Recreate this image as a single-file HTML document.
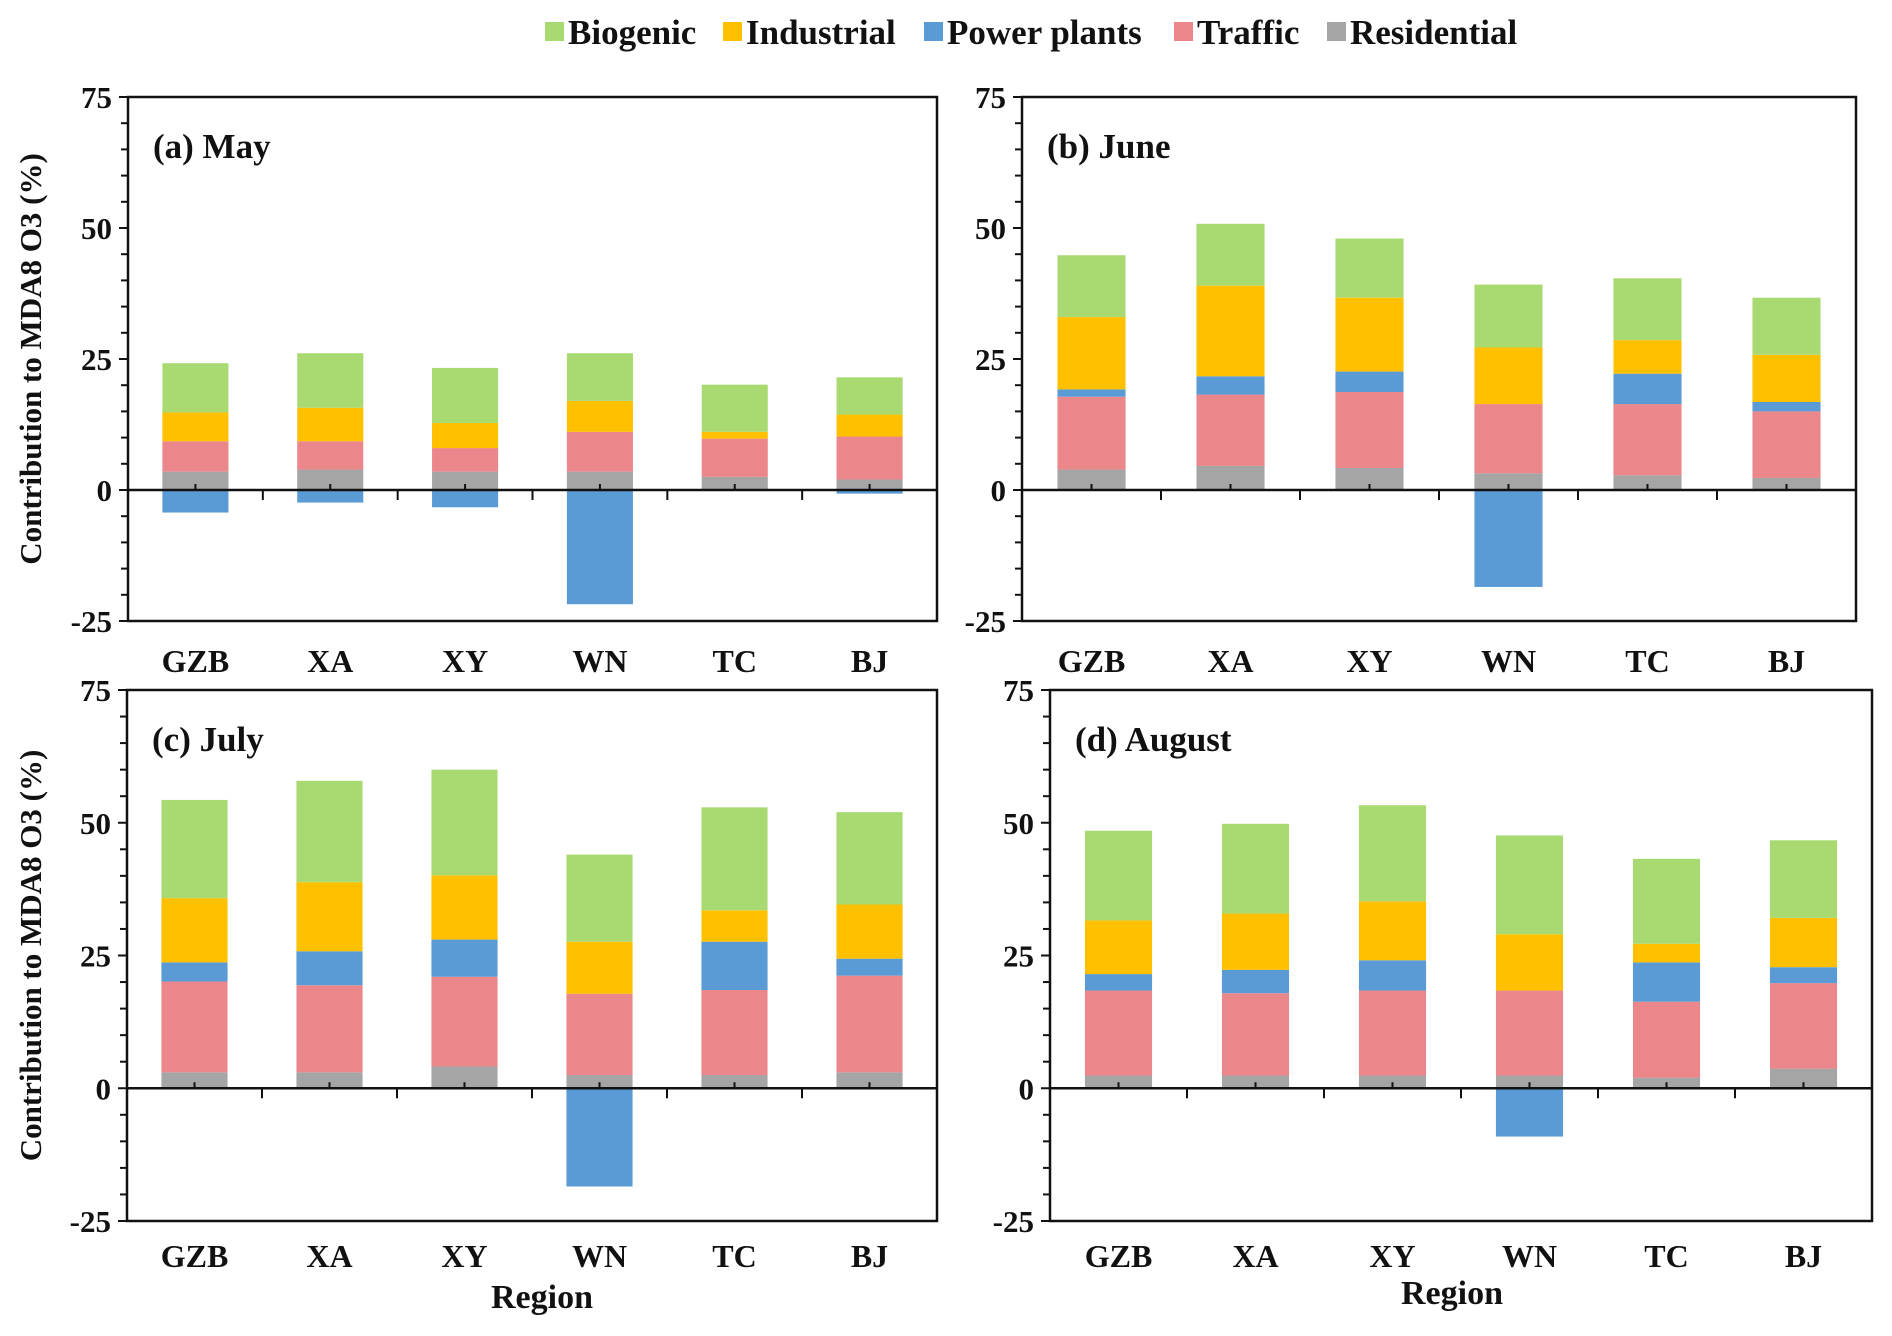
<!DOCTYPE html>
<html><head><meta charset="utf-8"><style>
html,body{margin:0;padding:0;background:#fff}
svg{display:block}
text{font-family:"Liberation Serif",serif;font-weight:bold;fill:#111}
</style></head><body>
<svg id="chart" width="1892" height="1336" viewBox="0 0 1892 1336" xmlns="http://www.w3.org/2000/svg">
<g id="legend"></g>
</svg>
<script>
const categories = ["GZB","XA","XY","WN","TC","BJ"];
const seriesNames = ["Residential","Traffic","Power plants","Industrial","Biogenic"];
const yTicks = [-25,0,25,50,75];
const panelTitles = ["(a) May","(b) June","(c) July","(d) August"];
// per-panel segment values: residential, traffic, power, industrial, biogenic
const mayResidential = [3.5,3.9,3.5,3.5,2.5,2.0];
const mayTraffic = [5.8,5.4,4.5,7.6,7.3,8.2];
const mayPower = [-4.3,-2.4,-3.3,-21.8,0,-0.7];
const mayIndustrial = [5.5,6.4,4.8,5.9,1.3,4.2];
const mayBiogenic = [9.4,10.4,10.5,9.1,9.0,7.1];
const junResidential = [3.9,4.6,4.2,3.2,2.8,2.3];
const junTraffic = [13.9,13.6,14.5,13.2,13.6,12.7];
const junPower = [1.4,3.5,3.9,-18.5,5.8,1.8];
const junIndustrial = [13.8,17.3,14.1,10.8,6.4,9.0];
const junBiogenic = [11.8,11.8,11.3,12.0,11.8,10.9];
const julResidential = [3.0,3.0,4.1,2.5,2.5,3.0];
const julTraffic = [17.1,16.4,16.9,15.3,16.0,18.2];
const julPower = [3.6,6.4,7.0,-18.5,9.1,3.2];
const julIndustrial = [12.1,13.0,12.1,9.8,5.9,10.2];
const julBiogenic = [18.5,19.1,19.9,16.4,19.4,17.4];
const augResidential = [2.4,2.4,2.4,2.4,2.0,3.7];
const augTraffic = [16.0,15.5,16.0,16.0,14.3,16.1];
const augPower = [3.1,4.4,5.7,-9.1,7.4,3.0];
const augIndustrial = [10.1,10.6,11.1,10.6,3.5,9.3];
const augBiogenic = [16.9,16.9,18.1,18.6,16.0,14.6];

const panelData = [
  [mayResidential,mayTraffic,mayPower,mayIndustrial,mayBiogenic],
  [junResidential,junTraffic,junPower,junIndustrial,junBiogenic],
  [julResidential,julTraffic,julPower,julIndustrial,julBiogenic],
  [augResidential,augTraffic,augPower,augIndustrial,augBiogenic]
];
const colors = ["#a5a5a5","#eb868b","#5b9bd5","#ffc000","#a9d971"];
const boxes = [
  {l:128,r:937,t:97,b:621},
  {l:1022,r:1856,t:97,b:621},
  {l:127,r:937,t:690,b:1221},
  {l:1050,r:1872,t:690,b:1221}
];
const regionX = [542,1452];
const NS="http://www.w3.org/2000/svg";
const svg=document.getElementById('chart');
function mk(tag,attrs,parent){const e=document.createElementNS(NS,tag);for(const k in attrs)e.setAttribute(k,attrs[k]);(parent||svg).appendChild(e);return e;}

panelData.forEach((data,p)=>{
  const B=boxes[p];
  const g=mk('g',{});
  
  
  const y=v=>B.t+(75-v)*(B.b-B.t)/100;
  const bw=(B.r-B.l)/categories.length;
  const x=i=>B.l+bw*(i+0.5);
  categories.forEach((c,i)=>{
    let pos=0,neg=0;
    data.forEach((arr,s)=>{
      const v=arr[i];
      if(!v) return;
      let y0,y1;
      if(v>0){y0=pos;y1=pos+v;pos=y1;}else{y0=neg+v;y1=neg;neg=y0;}
      const r=mk('rect',{x:x(i)-bw*0.245,y:y(y1),width:bw*0.49,height:y(y0)-y(y1),fill:colors[s]},g);
      
      
    });
  });
  const f=mk('rect',{x:B.l,y:B.t,width:B.r-B.l,height:B.b-B.t,fill:'none',stroke:'#111','stroke-width':2.5},g);
  
  
  const z=mk('line',{x1:B.l,x2:B.r,y1:y(0),y2:y(0),stroke:'#111','stroke-width':2.5},g);
  
  
  for(let i=0;i<categories.length;i++){
    if(i>0) mk('line',{x1:B.l+bw*i,x2:B.l+bw*i,y1:y(0),y2:y(0)+10,stroke:'#111','stroke-width':2},g);
    mk('line',{x1:x(i),x2:x(i),y1:y(0),y2:y(0)-6,stroke:'#111','stroke-width':2},g);
    const t=mk('text',{x:x(i),y:(p<2?672:1267),'text-anchor':'middle','font-size':32},g);
    t.textContent=categories[i];
    
    
  }
  for(let v=-25;v<=75;v+=5){
    const major=v%25===0;
    mk('line',{x1:B.l-(major?9:7),x2:B.l,y1:y(v),y2:y(v),stroke:'#111','stroke-width':2},g);
  }
  yTicks.forEach(v=>{
    const t=mk('text',{x:B.l-16,y:y(v)+11,'text-anchor':'end','font-size':31},g);
    t.textContent=v;
    
    
  });
  const tt=mk('text',{x:B.l+25,y:B.t+61,'font-size':35},g);
  tt.textContent=panelTitles[p];
  
  
  if(p%2===0){
    const cy=(B.t+B.b)/2;
    const yl=mk('text',{x:0,y:0,'text-anchor':'middle','font-size':31,transform:`translate(41,${cy}) rotate(-90)`},g);
    yl.textContent='Contribution to MDA8 O3 (%)';
    
    
  }
  if(p>=2){
    const xl=mk('text',{x:regionX[p-2],y:(p===2?1308:1304),'text-anchor':'middle','font-size':34},g);
    xl.textContent='Region';
    
    
  }
});
const leg=document.getElementById('legend');
const legendItems=[["Biogenic",4,553],["Industrial",3,731],["Power plants",2,932],["Traffic",1,1182],["Residential",0,1335]];
legendItems.forEach(([name,ci,lx])=>{
  const r=mk('rect',{x:lx-8,y:22,width:19,height:19,fill:colors[ci]},leg);
  
  
  const t=mk('text',{x:lx+15,y:44,'font-size':35},leg);
  t.textContent=name;
  
  
});
</script>
</body></html>
